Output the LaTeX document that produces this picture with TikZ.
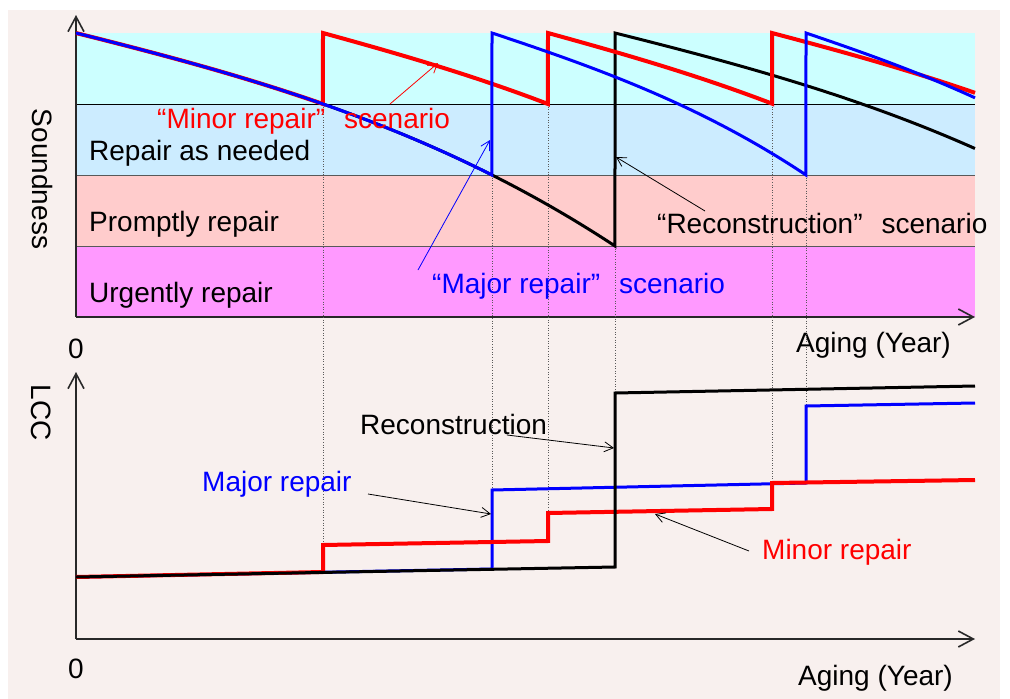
\documentclass[tikz,border=0pt]{standalone}
\usepackage{fontspec}
\setmainfont{Liberation Sans}
\usetikzlibrary{arrows.meta}

\definecolor{bgc}{RGB}{248,240,238}
\definecolor{bandA}{RGB}{204,255,255}
\definecolor{bandB}{RGB}{204,236,255}
\definecolor{bandC}{RGB}{255,204,204}
\definecolor{bandD}{RGB}{255,153,255}
\definecolor{axisc}{RGB}{40,40,40}
\definecolor{guidec}{RGB}{90,90,90}

\begin{document}
\begin{tikzpicture}[x=1pt,y=-1pt,
  declare function={decay(\s)=25.045*\s+0.4936*\s*\s+0.4066*\s*\s*\s;},
  lbl/.style={font=\fontsize{28}{32}\selectfont, inner sep=0pt, anchor=base west},
  axis/.style={draw=axisc, line width=1.6pt,
    -{Straight Barb[length=15pt,width=16pt,line width=1.6pt]}},
  note/.style={line width=0.8pt, -{Straight Barb[length=9pt,width=10pt,line width=0.8pt]}},
  guide/.style={draw=guidec, line width=0.6pt, dotted},
  redc/.style={draw=red, line width=4pt},
  bluec/.style={draw=blue, line width=3pt},
  blackc/.style={draw=black, line width=3pt},
]
\useasboundingbox (0,0) rectangle (1010,699);
\fill[bgc] (8,10) rectangle (1000,699);

% condition bands of the soundness chart
\fill[bandA] (76,33) rectangle (975,104);
\fill[bandB] (76,104) rectangle (975,175);
\fill[bandC] (76,175) rectangle (975,246);
\fill[bandD] (76,246) rectangle (975,317);
\draw[line width=0.8pt] (76,104) -- (975,104);
\draw[line width=1pt, draw=gray!70!black] (76,175) -- (975,175);
\draw[line width=1pt, draw=gray!70!black] (76,246) -- (975,246);

% band labels
\node[lbl] (bandtxtA) at (89,160) {Repair as needed};
\node[lbl] (bandtxtB) at (89,231) {Promptly repair};
\node[lbl] (bandtxtC) at (89,302) {Urgently repair};

% axes
\coordinate (o1) at (76,317);
\coordinate (y1) at (76,15);
\coordinate (x1) at (975,317);
\coordinate (o2) at (76,639);
\coordinate (y2) at (76,372);
\coordinate (x2) at (975,639);
\draw[axis] (o1) -- (y1);
\draw[axis] (o1) -- (x1);
\draw[axis] (o2) -- (y2);
\draw[axis] (o2) -- (x2);

\node[lbl, anchor=base] (zeroA) at (76,358) {0};
\node[lbl, anchor=base] (zeroB) at (76,678) {0};
\node[lbl] (ageA) at (796,352) {Aging (Year)};
\node[lbl] (ageB) at (798,685) {Aging (Year)};
\node[lbl, anchor=center, rotate=-90] (ylabA) at (43,179) {Soundness};
\node[lbl, anchor=center, rotate=-90] (ylabB) at (41,413) {LCC};

% guide lines linking each intervention to its cost step
\coordinate (gA1) at (323,104); \coordinate (gA2) at (323,545);
\coordinate (gB1) at (492,175); \coordinate (gB2) at (492,490);
\coordinate (gC1) at (548,104); \coordinate (gC2) at (548,513);
\coordinate (gD1) at (615,246); \coordinate (gD2) at (615,393);
\coordinate (gE1) at (772,104); \coordinate (gE2) at (772,483);
\coordinate (gF1) at (806,175); \coordinate (gF2) at (806,406);
\foreach \g in {A,B,C,D,E,F} \draw[guide] (g\g1) -- (g\g2);

% soundness curves
\draw[blackc] plot[domain=0:5.39,samples=60] ({76+100*\x},{33+decay(\x)})
  -- (615,33) -- plot[domain=0:3.6,samples=50] ({615+100*\x},{33+decay(\x)});
\draw[redc] plot[domain=0:2.47,samples=40] ({76+100*\x},{33+decay(\x)})
  -- (323,33) -- plot[domain=0:2.25,samples=40] ({323+100*\x},{33+decay(1.0978*\x)})
  -- (548,33) -- plot[domain=0:2.24,samples=40] ({548+100*\x},{33+decay(1.0978*\x)})
  -- (772,33) -- plot[domain=0:2.03,samples=40] ({772+100*\x},{33+decay(1.054*\x)});
\draw[bluec] plot[domain=0:4.16,samples=50] ({76+100*\x},{33+decay(\x)})
  -- (492,33) -- plot[domain=0:3.14,samples=50] ({492+100*\x},{33+decay(1.3248*\x)})
  -- (806,33) -- plot[domain=0:1.69,samples=30] ({806+100*\x},{33+decay(1.355*\x)});

% LCC curves
\draw[bluec] (76,577) -- (492,569) -- (492,490) -- (806,483) -- (806,406) -- (975,403);
\draw[redc] (76,577) -- (323,572) -- (323,545) -- (548,541) -- (548,513)
  -- (772,509) -- (772,483) -- (975,480);
\draw[blackc] (76,577) -- (615,567) -- (615,393) -- (975,386);

% scenario labels and pointers
\node[lbl, text=red] (minS) at (157,128) {“Minor repair”\hspace{0.4em} scenario};
\node[lbl, text=blue] (majS) at (432,293) {“Major repair”\hspace{0.4em} scenario};
\node[lbl] (recS) at (657,233) {“Reconstruction”\hspace{0.4em} scenario};
\coordinate (minSa) at (390,104); \coordinate (minSb) at (438,63);
\coordinate (majSa) at (418,270); \coordinate (majSb) at (490,140);
\coordinate (recSa) at (705,211); \coordinate (recSb) at (616,157);
\draw[note, red] (minSa) -- (minSb);
\draw[note, blue] (majSa) -- (majSb);
\draw[note] (recSa) -- (recSb);

\node[lbl] (rec) at (360,434) {Reconstruction};
\node[lbl, text=blue] (maj) at (202,491) {Major repair};
\node[lbl, text=red] (min) at (762,559) {Minor repair};
\coordinate (reca) at (507,435); \coordinate (recb) at (614,448);
\coordinate (maja) at (368,494); \coordinate (majb) at (491,514);
\coordinate (mina) at (749,551); \coordinate (minb) at (655,514);
\draw[note] (reca) -- (recb);
\draw[note] (maja) -- (majb);
\draw[note] (mina) -- (minb);
\end{tikzpicture}
\end{document}
